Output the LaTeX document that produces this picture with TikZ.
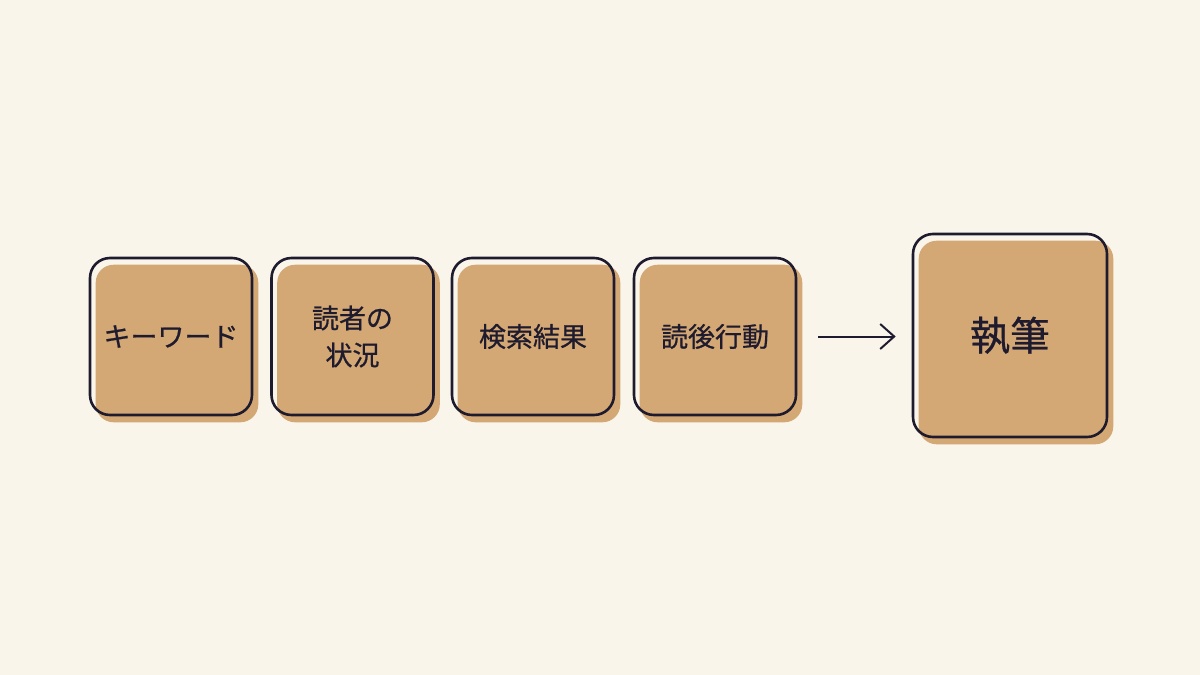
\documentclass[tikz,border=0pt]{standalone}
\usepackage{fontspec}
\setmainfont{Noto Sans CJK JP}[FakeBold=0.7]
\usetikzlibrary{arrows.meta,backgrounds}
\definecolor{bgc}{HTML}{FAF5EA}
\definecolor{fillc}{HTML}{D4A874}
\definecolor{inkc}{HTML}{1E1B2E}
\tikzset{
  box/.style={draw=inkc, line width=2.6pt, rounded corners=20pt, inner sep=0pt,
    minimum width=162pt, minimum height=157pt, text=inkc, align=center,
    font=\fontsize{27}{37}\selectfont},
  bigbox/.style={box, minimum width=194pt, minimum height=203pt,
    font=\fontsize{40}{48}\selectfont},
  flow/.style={draw=inkc, line width=2pt, -{Straight Barb[length=14pt,width=25pt,line width=2pt]}},
}
\newcommand{\boxfill}[1]{%
  \begin{scope}[on background layer]
    \fill[fillc, rounded corners=18pt] ([shift={(7pt,-8pt)}]#1.north west) rectangle ([shift={(5pt,-6pt)}]#1.south east);
  \end{scope}}
\begin{document}
\begin{tikzpicture}[x=1pt,y=-1pt]
\begin{scope}[on background layer]
\fill[bgc] (0,0) rectangle (1200,675);
\end{scope}
\useasboundingbox (0,0) rectangle (1200,675);
\node[box] (k1) at (171,336.5) {キーワード};
\node[box] (k2) at (352.5,336.5) {読者の\\状況};
\node[box] (k3) at (533,336.5) {検索結果};
\node[box] (k4) at (715,336.5) {読後行動};
\node[bigbox] (k5) at (1010,335.5) {執筆};
\boxfill{k1}\boxfill{k2}\boxfill{k3}\boxfill{k4}\boxfill{k5}
\draw[flow, shorten <=21pt, shorten >=16pt] (k4.east) -- (k4.east -| k5.west);
\end{tikzpicture}
\end{document}
